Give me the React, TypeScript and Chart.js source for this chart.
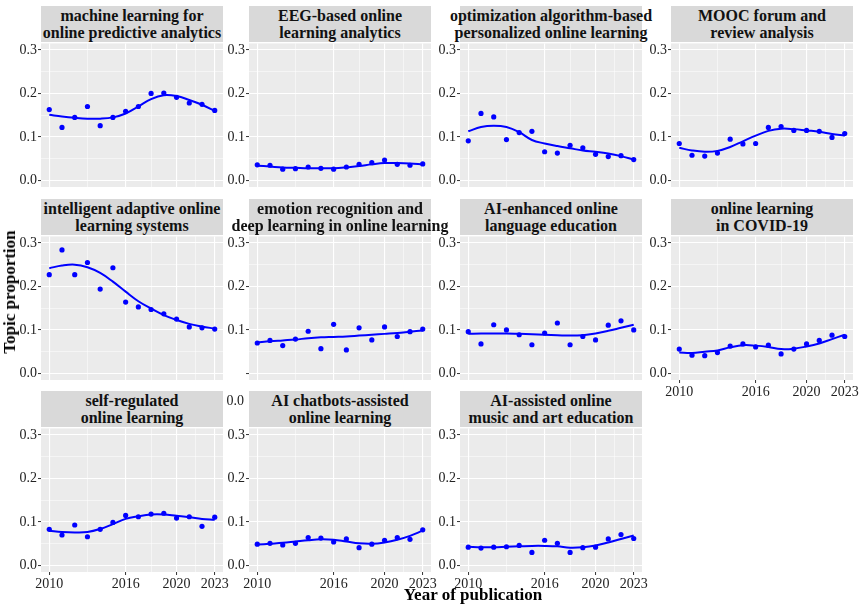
import { useEffect, useRef } from 'react'
import { Chart, registerables } from 'chart.js'

Chart.register(...registerables)

const SERIF = "'Liberation Serif', 'Times New Roman', serif"
const BLUE = '#0000FF'

const years = [2010, 2011, 2012, 2013, 2014, 2015, 2016, 2017, 2018, 2019, 2020, 2021, 2022, 2023]
const xTicks = [2010, 2013, 2016, 2018, 2020, 2021.5, 2023]
const xLabels = [2010, 2016, 2020, 2023]
const yTicks = [0, 0.05, 0.1, 0.15, 0.2, 0.25, 0.3]

// topic proportions per year (dots) and the fitted smooth curve (line)
const mlPoints = [0.163, 0.122, 0.145, 0.170, 0.126, 0.145, 0.159, 0.170, 0.200, 0.201, 0.191, 0.178, 0.175, 0.161]
const mlSmooth = [0.151, 0.147, 0.144, 0.142, 0.142, 0.145, 0.154, 0.170, 0.187, 0.196, 0.194, 0.185, 0.174, 0.160]

const eegPoints = [0.036, 0.035, 0.026, 0.027, 0.031, 0.028, 0.026, 0.031, 0.037, 0.041, 0.047, 0.037, 0.035, 0.038]
const eegSmooth = [0.034, 0.032, 0.030, 0.029, 0.028, 0.028, 0.028, 0.030, 0.033, 0.037, 0.040, 0.040, 0.039, 0.037]

const optPoints = [0.091, 0.154, 0.146, 0.094, 0.110, 0.113, 0.066, 0.063, 0.081, 0.075, 0.060, 0.055, 0.057, 0.048]
const optSmooth = [0.113, 0.123, 0.126, 0.123, 0.111, 0.093, 0.085, 0.079, 0.074, 0.069, 0.066, 0.062, 0.056, 0.048]

const moocPoints = [0.085, 0.058, 0.056, 0.063, 0.095, 0.084, 0.085, 0.122, 0.124, 0.115, 0.115, 0.113, 0.099, 0.108]
const moocSmooth = [0.075, 0.069, 0.066, 0.068, 0.077, 0.090, 0.103, 0.114, 0.119, 0.118, 0.115, 0.112, 0.107, 0.103]

const adaptivePoints = [0.227, 0.284, 0.227, 0.255, 0.194, 0.243, 0.164, 0.153, 0.147, 0.137, 0.125, 0.107, 0.105, 0.102]
const adaptiveSmooth = [0.242, 0.248, 0.250, 0.244, 0.231, 0.211, 0.188, 0.166, 0.149, 0.134, 0.123, 0.114, 0.108, 0.103]

const emotionPoints = [0.070, 0.076, 0.064, 0.079, 0.097, 0.057, 0.113, 0.054, 0.105, 0.077, 0.107, 0.085, 0.096, 0.102]
const emotionSmooth = [0.071, 0.074, 0.076, 0.078, 0.081, 0.083, 0.084, 0.085, 0.087, 0.089, 0.091, 0.093, 0.096, 0.099]

const languagePoints = [0.096, 0.068, 0.112, 0.100, 0.089, 0.066, 0.093, 0.116, 0.066, 0.085, 0.077, 0.111, 0.121, 0.100]
const languageSmooth = [0.091, 0.092, 0.092, 0.092, 0.091, 0.090, 0.089, 0.088, 0.087, 0.088, 0.092, 0.098, 0.105, 0.112]

const covidPoints = [0.056, 0.042, 0.041, 0.048, 0.063, 0.068, 0.061, 0.065, 0.045, 0.056, 0.068, 0.076, 0.088, 0.085]
const covidSmooth = [0.048, 0.047, 0.050, 0.053, 0.060, 0.065, 0.064, 0.061, 0.056, 0.057, 0.062, 0.069, 0.079, 0.089]

const srlPoints = [0.083, 0.070, 0.093, 0.066, 0.083, 0.099, 0.115, 0.112, 0.118, 0.120, 0.109, 0.112, 0.090, 0.111]
const srlSmooth = [0.080, 0.077, 0.076, 0.077, 0.084, 0.095, 0.107, 0.113, 0.117, 0.117, 0.114, 0.111, 0.107, 0.105]

const chatbotPoints = [0.049, 0.051, 0.047, 0.051, 0.064, 0.063, 0.054, 0.061, 0.041, 0.049, 0.058, 0.064, 0.060, 0.082]
const chatbotSmooth = [0.048, 0.050, 0.052, 0.055, 0.058, 0.060, 0.059, 0.055, 0.051, 0.050, 0.053, 0.059, 0.068, 0.080]

const musicPoints = [0.042, 0.040, 0.042, 0.043, 0.046, 0.030, 0.058, 0.051, 0.030, 0.041, 0.042, 0.061, 0.071, 0.062]
const musicSmooth = [0.043, 0.042, 0.042, 0.043, 0.044, 0.045, 0.045, 0.044, 0.041, 0.042, 0.046, 0.053, 0.061, 0.069]

const colLeft = [41, 249, 460, 671]
const rowTop = [42, 235, 427]
const PW = 182
const PH = 145
const STRIP = 36

const panels = [
  { title: 'machine learning for\nonline predictive analytics', points: mlPoints, smooth: mlSmooth, col: 0, row: 0 },
  { title: 'EEG-based online\nlearning analytics', points: eegPoints, smooth: eegSmooth, col: 1, row: 0 },
  { title: 'optimization algorithm-based\npersonalized online learning', points: optPoints, smooth: optSmooth, col: 2, row: 0 },
  { title: 'MOOC forum and\nreview analysis', points: moocPoints, smooth: moocSmooth, col: 3, row: 0 },
  { title: 'intelligent adaptive online\nlearning systems', points: adaptivePoints, smooth: adaptiveSmooth, col: 0, row: 1 },
  { title: 'emotion recognition and\ndeep learning in online learning', points: emotionPoints, smooth: emotionSmooth, col: 1, row: 1, hideZero: true },
  { title: 'AI-enhanced online\nlanguage education', points: languagePoints, smooth: languageSmooth, col: 2, row: 1 },
  { title: 'online learning\nin COVID-19', points: covidPoints, smooth: covidSmooth, col: 3, row: 1, showX: true },
  { title: 'self-regulated\nonline learning', points: srlPoints, smooth: srlSmooth, col: 0, row: 2, showX: true },
  { title: 'AI chatbots-assisted\nonline learning', points: chatbotPoints, smooth: chatbotSmooth, col: 1, row: 2, showX: true },
  { title: 'AI-assisted online\nmusic and art education', points: musicPoints, smooth: musicSmooth, col: 2, row: 2, showX: true },
]

const panelBg = {
  id: 'panelBg',
  beforeDraw(chart: Chart) {
    const { ctx, chartArea: a } = chart
    ctx.save()
    ctx.fillStyle = '#EBEBEB'
    ctx.fillRect(a.left, a.top, a.right - a.left, a.bottom - a.top)
    ctx.restore()
  },
}

const isMajorY = (v: number) => Math.abs(v * 10 - Math.round(v * 10)) < 1e-6
const isMajorX = (v: number) => xLabels.includes(v)

interface PanelProps {
  title: string
  points: number[]
  smooth: number[]
  left: number
  top: number
  showX?: boolean
  hideZero?: boolean
}

function Panel({ title, points, smooth, left, top, showX, hideZero }: PanelProps) {
  const canvasRef = useRef<HTMLCanvasElement>(null)

  useEffect(() => {
    if (!canvasRef.current) return
    const chart = new Chart(canvasRef.current, {
      type: 'scatter',
      data: {
        datasets: [
          {
            type: 'line',
            data: years.map((x, i) => ({ x, y: smooth[i] })),
            borderColor: BLUE,
            borderWidth: 2,
            pointRadius: 0,
            tension: 0.4,
            fill: false,
          },
          {
            data: years.map((x, i) => ({ x, y: points[i] })),
            backgroundColor: BLUE,
            borderWidth: 0,
            pointRadius: 2.6,
          },
        ],
      } as any,
      options: {
        responsive: true,
        maintainAspectRatio: false,
        animation: false,
        layout: { padding: { top: 8, right: 12, left: 0, bottom: 0 } },
        plugins: { legend: { display: false }, tooltip: { enabled: false } },
        scales: {
          x: {
            type: 'linear',
            min: 2009.35,
            max: 2023.65,
            afterBuildTicks: (s: any) => { s.ticks = xTicks.map((value) => ({ value })) },
            afterFit: (s: any) => { s.height = 24 },
            border: { display: false },
            grid: {
              color: '#FFFFFF',
              lineWidth: (c: any) => (c.tick && isMajorX(c.tick.value) ? 1.1 : 0.5),
              drawTicks: !!showX,
              tickLength: 3,
              tickWidth: 1,
              tickColor: (c: any) => (c.tick && isMajorX(c.tick.value) ? '#333333' : 'transparent'),
            },
            ticks: {
              display: !!showX,
              autoSkip: false,
              maxRotation: 0,
              padding: 1,
              color: '#222222',
              font: { family: SERIF, size: 14 },
              callback: (v: any) => (isMajorX(Number(v)) ? String(v) : ''),
            },
          },
          y: {
            type: 'linear',
            min: -0.015,
            max: 0.315,
            afterBuildTicks: (s: any) => { s.ticks = yTicks.map((value) => ({ value })) },
            afterFit: (s: any) => { s.width = 40 },
            border: { display: false },
            grid: {
              color: '#FFFFFF',
              lineWidth: (c: any) => (c.tick && isMajorY(c.tick.value) ? 1.1 : 0.5),
              tickLength: 3,
              tickWidth: 1,
              tickColor: (c: any) => (c.tick && isMajorY(c.tick.value) ? '#333333' : 'transparent'),
            },
            ticks: {
              padding: 1,
              color: '#222222',
              font: { family: SERIF, size: 14 },
              callback: (v: any) => {
                const n = Number(v)
                if (!isMajorY(n)) return ''
                if (hideZero && Math.abs(n) < 1e-9) return ''
                return n.toFixed(1)
              },
            },
          },
        },
      },
      plugins: [panelBg],
    })
    return () => { chart.destroy() }
  }, [points, smooth, showX, hideZero])

  return (
    <>
      <div
        style={{
          position: 'absolute', left, top: top - STRIP, width: PW, height: STRIP,
          background: '#D9D9D9', display: 'flex', alignItems: 'center', justifyContent: 'center',
          textAlign: 'center', whiteSpace: 'pre', fontFamily: SERIF, fontWeight: 'bold',
          fontSize: 16, lineHeight: '17px', color: '#111111',
        }}
      >
        {title}
      </div>
      <div style={{ position: 'absolute', left: left - 40, top: top - 8, width: 40 + PW + 12, height: 8 + PH + 24 }}>
        <canvas ref={canvasRef} />
      </div>
    </>
  )
}

export default function App() {
  return (
    <div style={{ position: 'fixed', left: 0, top: 0, width: 864, height: 608, background: '#FFFFFF', overflow: 'hidden' }}>
      {panels.map((p) => (
        <Panel
          key={p.title}
          title={p.title}
          points={p.points}
          smooth={p.smooth}
          left={colLeft[p.col]}
          top={rowTop[p.row]}
          showX={p.showX}
          hideZero={p.hideZero}
        />
      ))}
      <div style={{ position: 'absolute', left: 214, top: 393, width: 30, textAlign: 'right', fontFamily: SERIF, fontSize: 14, lineHeight: '16px', color: '#222222' }}>
        0.0
      </div>
      <div
        style={{
          position: 'absolute', left: 10, top: 292, transform: 'translate(-50%, -50%) rotate(-90deg)',
          whiteSpace: 'nowrap', fontFamily: SERIF, fontWeight: 'bold', fontSize: 17, color: '#000000',
        }}
      >
        Topic proportion
      </div>
      <div
        style={{
          position: 'absolute', left: 473, top: 595, transform: 'translate(-50%, -50%)',
          whiteSpace: 'nowrap', fontFamily: SERIF, fontWeight: 'bold', fontSize: 17, color: '#000000',
        }}
      >
        Year of publication
      </div>
    </div>
  )
}
